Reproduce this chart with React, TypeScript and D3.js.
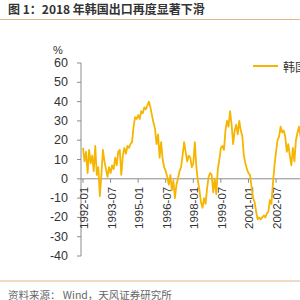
import * as d3 from "d3";

// monthly yoy export growth, 1992-01 onwards (%)
const VALUES = [
  16, 9, 14, 3, 15, 8, 12, 4, 17, 2, 6, -9,
  2, 15, 9, 5, 1, 6, 3, 7, 5, 11, 7, 14,
  15, 2, 12, 16, 13, 17, 16, 18, 19, 27, 32, 31,
  33, 31, 35, 34, 37, 36, 38, 40, 37, 33, 29, 26,
  18, 23, 11, 19, 10, 6, 4, 1, -3, 2, -6, -1,
  -10, -3, 0, 4, 6, 12, 19, 14, 9, 12, 11, 6,
  8, 19, 6, -1, -6, -12, -15, -10, -13, -5, 1, 3,
  2, -7, 0, -8, 5, 10, 16, 17, 15, 25, 30, 27,
  35, 28, 18, 25, 28, 23, 30, 25, 22, 12, 8, 5,
  3, 2, -4, -10, -12, -17, -21, -20, -21, -20, -19, -20,
  -18, -17, -11, -13, -2, 7, 14, 20, 22, 27, 24, 25,
  22, 14, 18, 12, 7, 16, 9, 20, 24, 27, 22, 25,
];
const START_YEAR = 1992;
const X_TICKS = ["1992-01", "1993-07", "1995-01", "1996-07", "1998-01", "1999-07", "2001-01", "2002-07"];
const Y_TICKS = [60, 50, 40, 30, 20, 10, 0, -10, -20, -30, -40];

const TITLE = "图 1：2018 年韩国出口再度显著下滑";
const LEGEND = "韩国:出口金额:当月同比";
const SOURCE = "资料来源：  Wind，天风证券研究所";

const LINE_COLOR = "#f5b500";
const AXIS_COLOR = "#8c8c8c";
const TEXT_COLOR = "#333";
const RULE_COLOR = "#e6b585";
const FONT = "'Liberation Sans', Arial, sans-serif";

const W = 300;
const H = 300;

function parseMonth(s: string) {
  const [y, m] = s.split("-").map(Number);
  return (y - START_YEAR) * 12 + (m - 1);
}

export default function App() {
  const x = d3.scaleLinear().domain([0, 144]).range([83, 83 + 144 * 1.532]);
  const y = d3.scaleLinear().domain([-40, 60]).range([256, 63]);
  const axisX = 81;

  const line = d3
    .line<number>()
    .x((_, i) => x(i))
    .y((d) => y(d));

  return (
    <div style={{ position: "absolute", left: 0, top: 0 }}>
      <svg width={W} height={H} style={{ display: "block", background: "#fff" }} fontFamily={FONT}>
        <text x={8} y={14} fontSize={12} fontWeight="bold" fill={TEXT_COLOR}
          fontFamily="'Noto Sans CJK SC', sans-serif">
          {TITLE}
        </text>
        <line x1={0} x2={W} y1={19.5} y2={19.5} stroke={RULE_COLOR} strokeWidth={1} />

        {/* y axis */}
        <text x={58} y={50} fontSize={11} fill={TEXT_COLOR} textAnchor="middle" dominantBaseline="central">%</text>
        <line x1={axisX} x2={axisX} y1={y(60)} y2={y(-40)} stroke={AXIS_COLOR} />
        {Y_TICKS.map((t) => (
          <g key={t}>
            <line x1={axisX - 4} x2={axisX} y1={y(t)} y2={y(t)} stroke={AXIS_COLOR} />
            <text x={68} y={y(t)} fontSize={12.5} fill={TEXT_COLOR} textAnchor="end" dominantBaseline="central">
              {t}
            </text>
          </g>
        ))}

        {/* zero line with x ticks */}
        <line x1={axisX} x2={W} y1={y(0)} y2={y(0)} stroke={AXIS_COLOR} />
        {X_TICKS.map((t) => {
          const px = x(parseMonth(t));
          return (
            <g key={t}>
              <line x1={px} x2={px} y1={y(0)} y2={y(0) + 4} stroke={AXIS_COLOR} />
              <text
                transform={`translate(${px + 1},${y(0) + 8}) rotate(-90)`}
                fontSize={11.5}
                fill={TEXT_COLOR}
                textAnchor="end"
                dominantBaseline="central"
              >
                {t}
              </text>
            </g>
          );
        })}

        <path d={line(VALUES) ?? ""} fill="none" stroke={LINE_COLOR} strokeWidth={1.8} strokeLinejoin="round" />

        {/* legend, runs off the right edge like the reference */}
        <line x1={253} x2={278} y1={66} y2={66} stroke={LINE_COLOR} strokeWidth={2} />
        <text x={283} y={66} fontSize={12} fill={TEXT_COLOR} dominantBaseline="central"
          fontFamily="'Noto Sans CJK SC', sans-serif">
          {LEGEND}
        </text>

        <line x1={0} x2={W} y1={281} y2={281} stroke={RULE_COLOR} strokeWidth={1} />
        <text x={8} y={294} fontSize={10.5} fill="#666" dominantBaseline="central"
          fontFamily="'Noto Sans CJK SC', sans-serif">
          {SOURCE}
        </text>
      </svg>
    </div>
  );
}
